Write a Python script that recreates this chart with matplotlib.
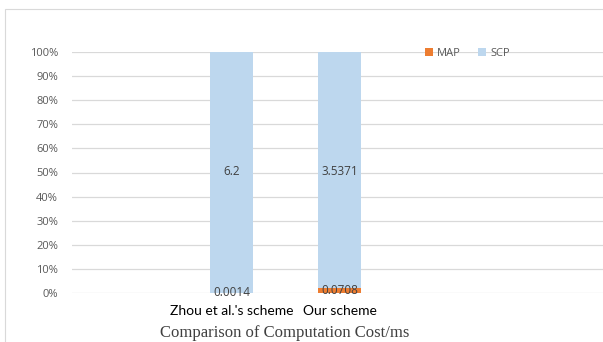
import matplotlib
matplotlib.use("Agg")
import matplotlib.pyplot as plt
import numpy as np
from matplotlib.patches import Rectangle

categories = ["Zhou et al.'s scheme", "Our scheme"]
map_vals = [0.0014, 0.0708]
scp_vals = [6.2, 3.5371]
map_labels = ["0.0014", "0.0708"]
scp_labels = ["6.2", "3.5371"]
ytick_labels = ["0%", "10%", "20%", "30%", "40%", "50%", "60%", "70%", "80%", "90%", "100%"]

c_map = "#ED7D31"
c_scp = "#BDD7EE"

fig = plt.figure(figsize=(6.03, 3.42), dpi=100)
fig.patch.set_facecolor("white")
# outer chart border
fig.add_artist(Rectangle((5/603, -0.1), 1.2, (342-9)/342 + 0.1, transform=fig.transFigure,
                         fill=False, edgecolor="#D9D9D9", linewidth=0.8))

ax = fig.add_axes([72/603, 49/342, 1 - 72/603, 241/342])
x = np.arange(len(categories))
tot = np.array(map_vals) + np.array(scp_vals)
map_pct = np.array(map_vals) / tot * 100
scp_pct = np.array(scp_vals) / tot * 100
w = 0.4
ax.bar(x, map_pct, width=w, color=c_map, label="MAP", zorder=3)
ax.bar(x, scp_pct, width=w, bottom=map_pct, color=c_scp, label="SCP", zorder=3)

for i in range(len(categories)):
    ax.text(x[i], 50.5, scp_labels[i], ha="center", va="center", fontsize=8.5,
            color="#404040", family="Open Sans", zorder=4)
    ax.text(x[i], map_pct[i] / 2, map_labels[i], ha="center", va="center", fontsize=8.5,
            color="#404040", family="Open Sans", zorder=4)

ax.set_xlim(-1.477, 3.44)
ax.set_ylim(0, 100)
ax.set_yticks(np.arange(0, 101, 10))
ax.set_yticklabels(ytick_labels, fontsize=8, color="#595959", family="Open Sans")
ax.set_xticks(x)
ax.set_xticklabels(categories, fontsize=10, color="#000000", family="Lato")
ax.tick_params(axis="y", length=0, pad=10)
ax.tick_params(axis="x", length=0, pad=8.5)
ax.grid(axis="y", color="#D9D9D9", linewidth=0.9, zorder=0)
for s in ax.spines.values():
    s.set_visible(False)

fig.text(285/603, 1 - 333/342, "Comparison of Computation Cost/ms", family="Liberation Serif",
         fontsize=12, color="#404040", ha="center", va="center")

ax.legend(loc="upper left", ncol=2, frameon=False, handlelength=0.7, handleheight=0.7,
          columnspacing=1.5, handletextpad=0.4, prop={"family": "Open Sans", "size": 8})
leg = ax.get_legend()
leg.set_bbox_to_anchor((415/603, 1 - 38/342), transform=fig.transFigure)
for t in leg.get_texts():
    t.set_color("#595959")

fig.savefig("out.png", dpi=100, facecolor="white")
